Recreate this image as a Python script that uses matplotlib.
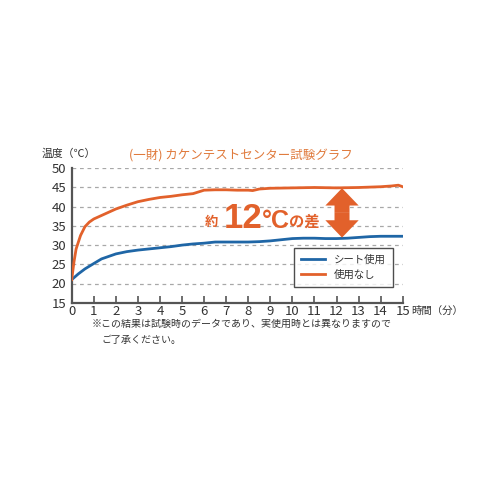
import numpy as np
import matplotlib
matplotlib.use("Agg")
import matplotlib.pyplot as plt

plt.rcParams['font.family'] = ['Noto Sans CJK JP', 'DejaVu Sans']

# ---- data ----
t_none = [0, 0.1, 0.2, 0.4, 0.6, 0.8, 1.0, 1.5, 2.0, 2.5, 3.0, 3.5, 4.0, 4.5, 5.0,
          5.5, 6.0, 6.5, 7.0, 7.5, 8.0, 8.2, 8.5, 9.0, 10.0, 11.0, 12.0, 13.0, 14.0, 14.5, 14.8, 15.0]
v_none = [21.0, 25.5, 29.0, 32.5, 34.8, 36.0, 36.8, 38.1, 39.4, 40.4, 41.3, 41.9, 42.4, 42.7, 43.1,
          43.4, 44.3, 44.4, 44.4, 44.3, 44.3, 44.2, 44.6, 44.8, 44.9, 45.0, 44.9, 45.0, 45.2, 45.4, 45.6, 45.2]
t_sheet = [0, 0.3, 0.6, 1.0, 1.35, 2.0, 2.5, 3.0, 3.5, 4.0, 4.5, 5.0, 5.5, 6.0, 6.5, 7.0, 8.0,
           8.5, 9.0, 9.5, 10.0, 10.5, 11.0, 11.5, 12.0, 12.5, 13.0, 13.5, 14.0, 15.0]
v_sheet = [21.0, 22.5, 23.8, 25.2, 26.4, 27.7, 28.3, 28.7, 29.0, 29.3, 29.6, 30.0, 30.3, 30.5, 30.8, 30.8, 30.8,
           30.9, 31.1, 31.4, 31.7, 31.8, 31.8, 31.7, 31.7, 31.8, 32.0, 32.2, 32.3, 32.3]
series_labels = ['シート使用', '使用なし']
x_ticks = list(range(0, 16))
y_ticks = [15, 20, 25, 30, 35, 40, 45, 50]
arrow_t = 12.25

ORANGE = '#E2612B'
BLUE = '#1F66A6'

fig = plt.figure(figsize=(5, 5), dpi=100)
ax = fig.add_axes([0.1434, 0.3946, 0.662, 0.2688])

ax.set_xlim(0, 15)
ax.set_ylim(15, 50)

for y in y_ticks[1:]:
    ax.axhline(y, color='#a8a8a8', lw=0.9, ls=(0, (3, 3)), zorder=0)

ax.plot(t_sheet, v_sheet, color=BLUE, lw=2.0, label=series_labels[0], zorder=3)
ax.plot(t_none, v_none, color=ORANGE, lw=2.0, label=series_labels[1], zorder=3)

for s in ['top', 'right']:
    ax.spines[s].set_visible(False)
for s in ['left', 'bottom']:
    ax.spines[s].set_color('#555555')
    ax.spines[s].set_linewidth(1.6)

ax.set_xticks(x_ticks)
ax.set_yticks(y_ticks)
ax.tick_params(axis='x', direction='in', length=5, width=1.2, color='#555555',
               labelsize=9.5, pad=1.5, labelcolor='#333333')
ax.tick_params(axis='y', length=0, labelsize=9.5, pad=4, labelcolor='#333333')

# arrow between the lines
top = np.interp(arrow_t, t_none, v_none) - 0.1
bot = np.interp(arrow_t, t_sheet, v_sheet) + 0.2
mid = (top + bot) / 2
for end in (top, bot):
    ax.annotate('', xy=(arrow_t, end), xytext=(arrow_t, mid),
                arrowprops=dict(arrowstyle='simple,head_length=1.25,head_width=2.4,tail_width=1.08',
                                color=ORANGE, shrinkA=0, shrinkB=0, lw=0), zorder=4)

# annotation text
base = 34.45
ax.text(6.04, base + 0.4, '約', color=ORANGE, fontsize=9.5, fontweight='bold', va='baseline', ha='left')
ax.text(6.9, base, '12', color=ORANGE, fontsize=25, fontweight='bold', va='baseline', ha='left',
        family=['Liberation Sans', 'DejaVu Sans'])
ax.text(8.6, base, '°C', color=ORANGE, fontsize=18, fontweight='bold', va='baseline', ha='left',
        family=['Liberation Sans', 'DejaVu Sans'])
ax.text(9.85, base + 0.35, 'の差', color=ORANGE, fontsize=11, fontweight='bold', va='baseline', ha='left')

leg = ax.legend(loc='lower right', bbox_to_anchor=(0.972, 0.115), frameon=True, fancybox=False,
                edgecolor='#222222', fontsize=7.5, handlelength=2.3, handletextpad=0.9,
                borderpad=0.7, labelspacing=0.45, borderaxespad=0)
leg.get_frame().set_linewidth(1.0)
for txt in leg.get_texts():
    txt.set_color('#333333')

fig.text(0.083, 0.693, '温度（℃）', fontsize=7.8, color='#333333', va='center', ha='left')
fig.text(0.258, 0.690, '(一財) カケンテストセンター試験グラフ', fontsize=9, color='#E07A3C',
         va='center', ha='left')
fig.text(0.823, 0.378, '時間（分）', fontsize=7.5, color='#333333', va='center', ha='left')
fig.text(0.183, 0.352, '※この結果は試験時のデータであり、実使用時とは異なりますので',
         fontsize=7.2, color='#333333', va='center', ha='left')
fig.text(0.203, 0.321, 'ご了承ください。', fontsize=7.2, color='#333333', va='center', ha='left')

fig.savefig('out.png', dpi=100, facecolor='white')
